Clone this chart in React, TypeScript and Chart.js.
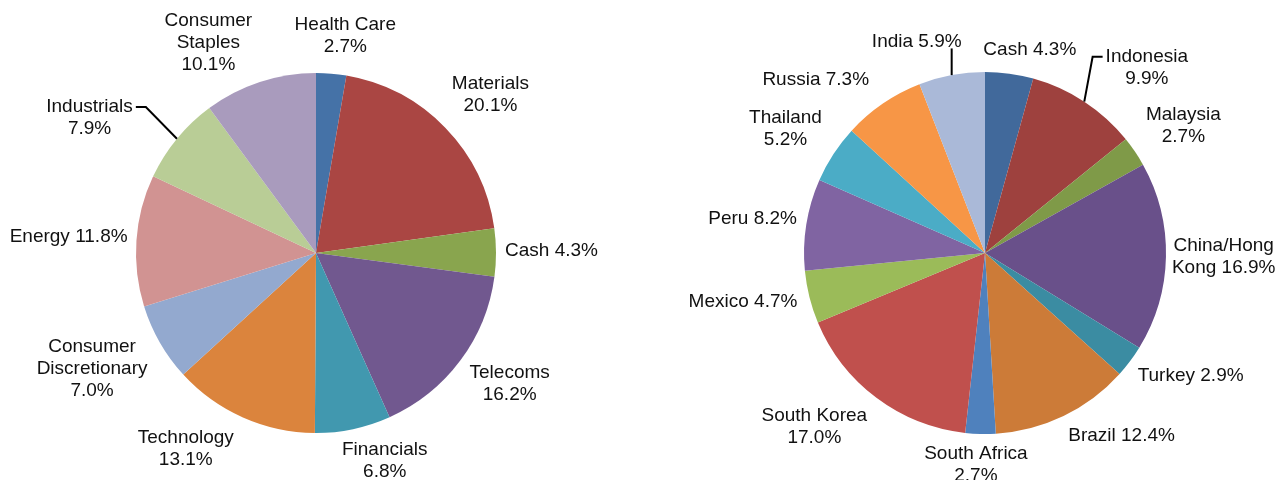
import React, { useEffect, useRef } from 'react';
import { Chart, registerables } from 'chart.js';

Chart.register(...registerables);

// ---------- Left pie: sectors ----------
const leftCategories = [
  'Health Care',
  'Materials',
  'Cash',
  'Telecoms',
  'Financials',
  'Technology',
  'Consumer\nDiscretionary',
  'Energy',
  'Industrials',
  'Consumer\nStaples',
];
const leftValues = [2.7, 20.1, 4.3, 16.2, 6.8, 13.1, 7.0, 11.8, 7.9, 10.1];
const leftColors = [
  '#4572A7', '#AA4643', '#89A54E', '#71588F', '#4198AF',
  '#DB843D', '#93A9CF', '#D19392', '#B9CD96', '#A99BBD',
];
const leftInline = ['Cash', 'Energy'];
const leftLeaders = ['Industrials'];
const leftNudge = [
  [9, -7], [11, -11], [0, -2], [10, 5], [21, 1],
  [-34, 3], [-12, 5], [0, -2], [-47, -1], [-35, 1],
];

// ---------- Right pie: countries ----------
const rightCategories = [
  'Cash',
  'Indonesia',
  'Malaysia',
  'China/Hong\nKong',
  'Turkey',
  'Brazil',
  'South Africa',
  'South Korea',
  'Mexico',
  'Peru',
  'Thailand',
  'Russia',
  'India',
];
const rightValues = [4.3, 9.9, 2.7, 16.9, 2.9, 12.4, 2.7, 17.0, 4.7, 8.2, 5.2, 7.3, 5.9];
const rightColors = [
  '#41699B', '#9E413E', '#7F9A48', '#69508A', '#3B8CA2', '#CC7B38', '#4F81BD',
  '#C0504D', '#9BBB59', '#8064A2', '#4BACC6', '#F79646', '#AAB9D8',
];
const rightInline = ['Cash', 'China/Hong\nKong', 'Turkey', 'Brazil', 'Mexico', 'Peru', 'Russia', 'India'];
const rightLeaders = ['Indonesia', 'India'];
const rightNudge = [
  [13, -4], [35, -8], [10, -8], [-3, -1], [11, 2], [31, 2], [-3, 0],
  [-25, 4], [-5, 0], [-1, -3], [-10, -8], [-32, -7], [-25, -14],
];

const FONT_SIZE = 19;
const LINE_HEIGHT = 22;
const GAP = 9;

function buildLabels(cats: string[], vals: number[], inline: string[]) {
  return cats.map((c, i) => c + (inline.includes(c) ? ' ' : '\n') + vals[i].toFixed(1) + '%');
}

function makeLabelPlugin(labels: string[], nudges: number[][], leaderCats: string[], cats: string[]) {
  return {
    id: 'outsideLabels',
    afterDatasetsDraw(chart: any) {
      const ctx = chart.ctx as CanvasRenderingContext2D;
      const meta = chart.getDatasetMeta(0);
      ctx.save();
      ctx.font = `${FONT_SIZE}px "Liberation Sans", Arial, sans-serif`;
      ctx.fillStyle = '#111';
      ctx.textAlign = 'center';
      ctx.textBaseline = 'middle';
      meta.data.forEach((arc: any, i: number) => {
        const p = arc.getProps(['x', 'y', 'startAngle', 'endAngle', 'outerRadius'], true);
        const mid = (p.startAngle + p.endAngle) / 2;
        const dx = Math.cos(mid);
        const dy = Math.sin(mid);
        const lines = labels[i].split('\n');
        const widths = lines.map((l) => ctx.measureText(l).width);
        const w = Math.max(...widths);
        const h = lines.length * LINE_HEIGHT;
        const n = nudges[i] || [0, 0];
        const cx = p.x + dx * (p.outerRadius + GAP) + (dx * w) / 2 + n[0];
        const cy = p.y + dy * (p.outerRadius + GAP) + (dy * h) / 2 + n[1];
        lines.forEach((l, j) => {
          ctx.fillText(l, cx, cy - h / 2 + LINE_HEIGHT * (j + 0.5));
        });
        if (leaderCats.includes(cats[i])) {
          const ax = p.x + dx * p.outerRadius;
          const ay = p.y + dy * p.outerRadius;
          const firstY = cy - h / 2 + LINE_HEIGHT * 0.5;
          const w1 = widths[0];
          ctx.beginPath();
          ctx.strokeStyle = '#000';
          ctx.lineWidth = 2;
          ctx.lineJoin = 'miter';
          if (ax > cx + w1 / 2 + 4) {
            const sx = cx + w1 / 2 + 3;
            ctx.moveTo(sx, firstY);
            ctx.lineTo(sx + 10, firstY);
            ctx.lineTo(ax, ay);
          } else if (ax < cx - w1 / 2 - 4) {
            const sx = cx - w1 / 2 - 3;
            ctx.moveTo(sx, firstY);
            ctx.lineTo(sx - 10, firstY);
            ctx.lineTo(ax, ay);
          } else {
            const by = ay > cy ? cy + h / 2 - 4 : cy - h / 2;
            ctx.moveTo(ax, by);
            ctx.lineTo(ax, ay);
          }
          ctx.stroke();
        }
      });
      ctx.restore();
    },
  };
}

function makeConfig(
  cats: string[],
  vals: number[],
  colors: string[],
  inline: string[],
  nudges: number[][],
  leaders: string[],
  padding: { left: number; right: number; top: number; bottom: number }
): any {
  return {
    type: 'pie',
    data: {
      labels: cats,
      datasets: [
        {
          data: vals,
          backgroundColor: colors,
          borderWidth: 0,
        },
      ],
    },
    options: {
      responsive: false,
      animation: false,
      events: [],
      layout: { padding },
      plugins: {
        legend: { display: false },
        tooltip: { enabled: false },
        title: { display: false },
      },
    },
    plugins: [makeLabelPlugin(buildLabels(cats, vals, inline), nudges, leaders, cats)],
  };
}

export default function App() {
  const leftRef = useRef<HTMLCanvasElement | null>(null);
  const rightRef = useRef<HTMLCanvasElement | null>(null);

  useEffect(() => {
    const left = new Chart(
      leftRef.current as HTMLCanvasElement,
      makeConfig(leftCategories, leftValues, leftColors, leftInline, leftNudge, leftLeaders, {
        left: 136,
        right: 136,
        top: 73,
        bottom: 47,
      })
    );
    const right = new Chart(
      rightRef.current as HTMLCanvasElement,
      makeConfig(rightCategories, rightValues, rightColors, rightInline, rightNudge, rightLeaders, {
        left: 164,
        right: 113,
        top: 72,
        bottom: 46,
      })
    );
    return () => {
      left.destroy();
      right.destroy();
    };
  }, []);

  return (
    <div
      style={{
        position: 'fixed',
        left: 0,
        top: 0,
        width: 1279,
        height: 480,
        background: '#ffffff',
        overflow: 'hidden',
      }}
    >
      <canvas
        ref={leftRef}
        width={632}
        height={480}
        style={{ position: 'absolute', left: 0, top: 0, width: 632, height: 480 }}
      />
      <canvas
        ref={rightRef}
        width={639}
        height={480}
        style={{ position: 'absolute', left: 640, top: 0, width: 639, height: 480 }}
      />
    </div>
  );
}
